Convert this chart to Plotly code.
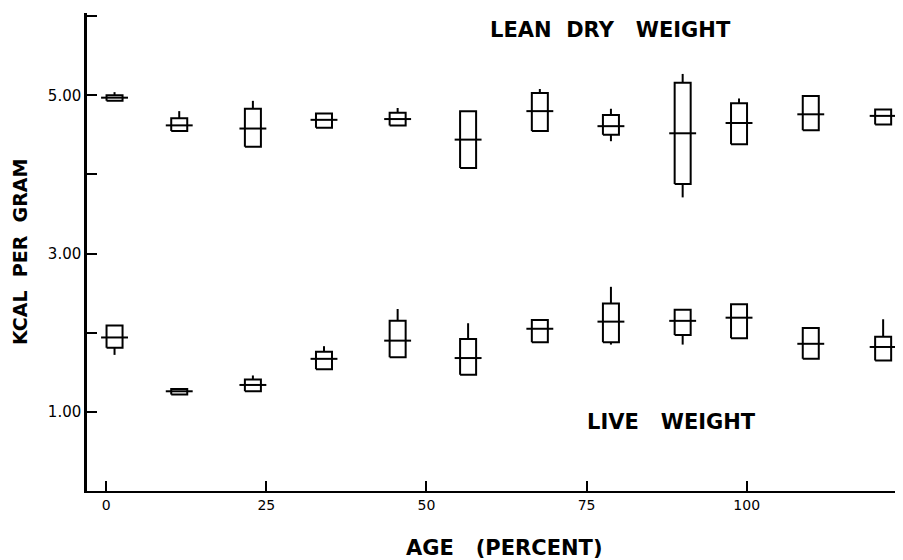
import plotly.graph_objects as go

# ---- data ----
age_lean = [1.3, 11.4, 22.9, 34.0, 45.5, 56.5, 67.7, 78.8, 90.0, 98.8, 110.0, 121.3]
lean_low = [4.93, 4.55, 4.35, 4.59, 4.62, 4.08, 4.55, 4.50, 3.88, 4.38, 4.56, 4.63]
lean_high = [5.00, 4.71, 4.83, 4.77, 4.78, 4.80, 5.03, 4.75, 5.16, 4.90, 4.99, 4.82]
lean_mean = [4.97, 4.62, 4.58, 4.69, 4.70, 4.44, 4.80, 4.61, 4.52, 4.65, 4.76, 4.74]
lean_min = [4.93, 4.55, 4.35, 4.59, 4.62, 4.08, 4.55, 4.42, 3.71, 4.38, 4.56, 4.63]
lean_max = [5.04, 4.80, 4.93, 4.77, 4.84, 4.80, 5.08, 4.83, 5.27, 4.96, 4.99, 4.82]

age_live = [1.3, 11.4, 22.9, 34.0, 45.5, 56.5, 67.7, 78.8, 90.0, 98.8, 110.0, 121.3]
live_low = [1.81, 1.22, 1.26, 1.54, 1.69, 1.47, 1.88, 1.88, 1.97, 1.93, 1.67, 1.65]
live_high = [2.09, 1.29, 1.41, 1.76, 2.15, 1.92, 2.16, 2.37, 2.29, 2.36, 2.06, 1.95]
live_mean = [1.94, 1.26, 1.34, 1.67, 1.90, 1.68, 2.05, 2.14, 2.15, 2.19, 1.86, 1.82]
live_min = [1.72, 1.22, 1.26, 1.54, 1.69, 1.47, 1.88, 1.85, 1.85, 1.93, 1.67, 1.65]
live_max = [2.09, 1.29, 1.46, 1.83, 2.30, 2.12, 2.16, 2.58, 2.29, 2.36, 2.06, 2.17]

x_ticks = [0, 25, 50, 75, 100]
x_tick_labels = ["0", "25", "50", "75", "100"]
y_ticks = [1, 2, 3, 4, 5, 6]
y_tick_labels = ["1.00", "", "3.00", "", "5.00", ""]

BOX_HALF = 1.25
MEAN_HALF = 2.1


def segments(ages, low, high, mean, vmin, vmax):
    bx, by, wx, wy, mx, my = [], [], [], [], [], []
    for a, lo, hi, m, mn, mxv in zip(ages, low, high, mean, vmin, vmax):
        bx += [a - BOX_HALF, a + BOX_HALF, a + BOX_HALF, a - BOX_HALF, a - BOX_HALF, None]
        by += [lo, lo, hi, hi, lo, None]
        if mxv > hi:
            wx += [a, a, None]
            wy += [hi, mxv, None]
        if mn < lo:
            wx += [a, a, None]
            wy += [mn, lo, None]
        mx += [a - MEAN_HALF, a + MEAN_HALF, None]
        my += [m, m, None]
    return bx, by, wx, wy, mx, my


fig = go.Figure()
for ages, lo, hi, m, mn, mxv in [
    (age_lean, lean_low, lean_high, lean_mean, lean_min, lean_max),
    (age_live, live_low, live_high, live_mean, live_min, live_max),
]:
    bx, by, wx, wy, mx, my = segments(ages, lo, hi, m, mn, mxv)
    line = dict(color="black", width=2)
    fig.add_trace(go.Scatter(x=bx, y=by, mode="lines", line=line, hoverinfo="skip"))
    fig.add_trace(go.Scatter(x=wx, y=wy, mode="lines", line=line, hoverinfo="skip"))
    fig.add_trace(go.Scatter(x=mx, y=my, mode="lines", line=line, hoverinfo="skip"))

XTICKFONT = dict(family="DejaVu Sans", size=14, color="black")
YTICKFONT = dict(family="DejaVu Sans", size=15, color="black")
TITLEFONT = dict(family="DejaVu Sans", size=21, color="black")
YTITLEFONT = dict(family="DejaVu Sans", size=19, color="black")
SP = "&nbsp;"

# the page body adds an 8px offset, so the figure is drawn 8px smaller
fig.update_layout(
    width=895,
    height=552,
    margin=dict(l=79, r=0, t=5, b=69),
    paper_bgcolor="white",
    plot_bgcolor="white",
    showlegend=False,
    font=dict(family="DejaVu Sans", color="black", size=14),
    xaxis=dict(
        range=[-3.0, 124.4],
        tickvals=x_ticks,
        ticktext=x_tick_labels,
        ticks="inside",
        ticklen=10,
        tickwidth=1.5,
        tickcolor="black",
        showline=True,
        linecolor="black",
        linewidth=2,
        showgrid=False,
        zeroline=False,
        automargin=False,
        tickfont=XTICKFONT,
    ),
    yaxis=dict(
        range=[0, 6.04],
        tickvals=y_ticks,
        ticktext=y_tick_labels,
        ticks="inside",
        ticklen=10,
        tickwidth=1.5,
        tickcolor="black",
        showline=True,
        linecolor="black",
        linewidth=2.5,
        showgrid=False,
        zeroline=False,
        automargin=False,
        tickfont=YTICKFONT,
    ),
    annotations=[
        dict(text="<b>LEAN" + SP * 2 + "DRY" + SP * 3 + "WEIGHT</b>", xref="x", yref="y",
             x=78.8, y=5.825, xanchor="center", yanchor="middle",
             showarrow=False, font=TITLEFONT),
        dict(text="<b>LIVE" + SP * 3 + "WEIGHT</b>", xref="x", yref="y",
             x=88.2, y=0.876, xanchor="center", yanchor="middle",
             showarrow=False, font=TITLEFONT),
        dict(text="<b>AGE" + SP * 3 + "(PERCENT)</b>", xref="paper", yref="paper",
             x=0.512, y=-0.119, xanchor="center", yanchor="middle",
             showarrow=False, font=TITLEFONT),
        dict(text="<b>KCAL" + SP * 2 + "PER" + SP * 2 + "GRAM</b>", xref="paper", yref="paper",
             x=-0.082, y=0.5, xanchor="center", yanchor="middle", textangle=-90,
             showarrow=False, font=YTITLEFONT),
    ],
)

fig.write_html("out.html")
